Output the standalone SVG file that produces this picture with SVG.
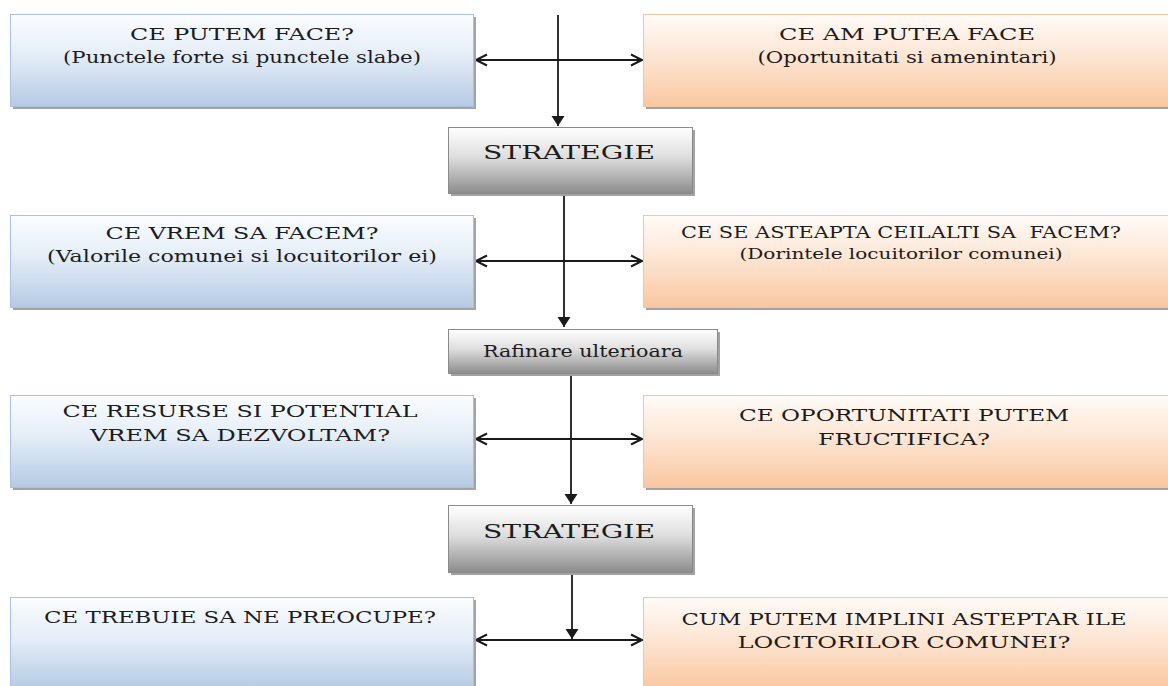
<svg xmlns="http://www.w3.org/2000/svg" width="1168" height="686" viewBox="0 0 1168 686">
<style>
.t{font-family:"DejaVu Serif","Liberation Serif",serif;font-size:17.5px;fill:#1c1c1c;text-anchor:middle;white-space:pre}
.sh{fill:#a3a3a3}
.bl{fill:url(#gB);stroke:#a9c1dd;stroke-width:1}
.or{fill:url(#gO);stroke:#f3c7a2;stroke-width:1}
.gr{fill:url(#gG);stroke:#8a8a8a;stroke-width:1}
.c{stroke:#1a1a1a;stroke-width:1.8;fill:none}
</style>
<defs>
<linearGradient id="gB" x1="0" y1="0" x2="0" y2="1"><stop offset="0" stop-color="#fbfdff"/><stop offset="0.45" stop-color="#e4edf7"/><stop offset="1" stop-color="#b5cae4"/></linearGradient>
<linearGradient id="gO" x1="0" y1="0" x2="0" y2="1"><stop offset="0" stop-color="#fffbf8"/><stop offset="0.45" stop-color="#fde6d4"/><stop offset="1" stop-color="#f9c7a0"/></linearGradient>
<linearGradient id="gG" x1="0" y1="0" x2="0" y2="1"><stop offset="0" stop-color="#ffffff"/><stop offset="0.45" stop-color="#dedede"/><stop offset="1" stop-color="#8c8c8c"/></linearGradient>
<marker id="tri" markerUnits="userSpaceOnUse" markerWidth="10" markerHeight="13" refX="10" refY="6.5" orient="auto" overflow="visible"><path d="M0,0 L10,6.5 L0,13 z" fill="#1a1a1a"/></marker>
<marker id="opn" markerUnits="userSpaceOnUse" markerWidth="12" markerHeight="11" refX="11" refY="5.5" orient="auto-start-reverse" overflow="visible"><path d="M0,0 L11,5.5 L0,11" fill="none" stroke="#1a1a1a" stroke-width="2"/><path d="M6,3 L11,5.5 L6,8 z" fill="#1a1a1a"/></marker>
</defs>
<rect width="1168" height="686" fill="#ffffff"/>

<g id="connectors">
<line class="c" x1="558" y1="15" x2="558" y2="126" marker-end="url(#tri)"/>
<line class="c" x1="476" y1="60" x2="642" y2="60" marker-start="url(#opn)" marker-end="url(#opn)"/>
<line class="c" x1="564" y1="193" x2="564" y2="327" marker-end="url(#tri)"/>
<line class="c" x1="476" y1="261" x2="642" y2="261" marker-start="url(#opn)" marker-end="url(#opn)"/>
<line class="c" x1="571" y1="373" x2="571" y2="504" marker-end="url(#tri)"/>
<line class="c" x1="476" y1="439" x2="642" y2="439" marker-start="url(#opn)" marker-end="url(#opn)"/>
<line class="c" x1="572" y1="572" x2="572" y2="639" marker-end="url(#tri)"/>
<line class="c" x1="476" y1="640" x2="642" y2="640" marker-start="url(#opn)" marker-end="url(#opn)"/>
</g>

<g id="n1">
<rect class="sh" x="13" y="17" width="463" height="92"/>
<rect class="bl" x="10.5" y="14.5" width="463" height="92"/>
<text class="t" x="242" y="40" textLength="224" lengthAdjust="spacingAndGlyphs">CE PUTEM FACE?</text>
<text class="t" x="242" y="63" textLength="358" lengthAdjust="spacingAndGlyphs">(Punctele forte si punctele slabe)</text>
</g>
<g id="n2">
<rect class="sh" x="646" y="17" width="530" height="92"/>
<rect class="or" x="643.5" y="14.5" width="530" height="92"/>
<text class="t" x="907" y="40" textLength="256" lengthAdjust="spacingAndGlyphs">CE AM PUTEA FACE</text>
<text class="t" x="907" y="63" textLength="299" lengthAdjust="spacingAndGlyphs">(Oportunitati si amenintari)</text>
</g>
<g id="n3">
<rect class="sh" x="451" y="130" width="244" height="66"/>
<rect class="gr" x="448.5" y="127.5" width="244" height="66"/>
<text class="t" x="569" y="159" style="font-size:19px" textLength="172" lengthAdjust="spacingAndGlyphs">STRATEGIE</text>
</g>
<g id="n4">
<rect class="sh" x="13" y="218" width="463" height="92"/>
<rect class="bl" x="10.5" y="215.5" width="463" height="92"/>
<text class="t" x="242" y="239" textLength="273" lengthAdjust="spacingAndGlyphs">CE VREM SA FACEM?</text>
<text class="t" x="242" y="262" textLength="390" lengthAdjust="spacingAndGlyphs">(Valorile comunei si locuitorilor ei)</text>
</g>
<g id="n5">
<rect class="sh" x="646" y="218" width="530" height="92"/>
<rect class="or" x="643.5" y="215.5" width="530" height="92"/>
<text class="t" x="901" y="238" style="font-size:16.5px" textLength="440" lengthAdjust="spacingAndGlyphs">CE SE ASTEAPTA CEILALTI SA  FACEM?</text>
<text class="t" x="901" y="259" style="font-size:15.5px" textLength="323" lengthAdjust="spacingAndGlyphs">(Dorintele locuitorilor comunei)</text>
</g>
<g id="n6">
<rect class="sh" x="451" y="332" width="269" height="44"/>
<rect class="gr" x="448.5" y="329.5" width="269" height="44"/>
<text class="t" x="583" y="357" textLength="200" lengthAdjust="spacingAndGlyphs">Rafinare ulterioara</text>
</g>
<g id="n7">
<rect class="sh" x="13" y="398" width="463" height="92"/>
<rect class="bl" x="10.5" y="395.5" width="463" height="92"/>
<text class="t" x="240" y="417" textLength="355" lengthAdjust="spacingAndGlyphs">CE RESURSE SI POTENTIAL</text>
<text class="t" x="240" y="441" textLength="300" lengthAdjust="spacingAndGlyphs">VREM SA DEZVOLTAM?</text>
</g>
<g id="n8">
<rect class="sh" x="646" y="398" width="530" height="92"/>
<rect class="or" x="643.5" y="395.5" width="530" height="92"/>
<text class="t" x="904" y="421" textLength="330" lengthAdjust="spacingAndGlyphs">CE OPORTUNITATI PUTEM</text>
<text class="t" x="904" y="445" textLength="172" lengthAdjust="spacingAndGlyphs">FRUCTIFICA?</text>
</g>
<g id="n9">
<rect class="sh" x="451" y="508" width="244" height="67"/>
<rect class="gr" x="448.5" y="505.5" width="244" height="67"/>
<text class="t" x="569" y="538" style="font-size:19px" textLength="172" lengthAdjust="spacingAndGlyphs">STRATEGIE</text>
</g>
<g id="n10">
<rect class="sh" x="13" y="600" width="463" height="92"/>
<rect class="bl" x="10.5" y="597.5" width="463" height="92"/>
<text class="t" x="240" y="623" textLength="392" lengthAdjust="spacingAndGlyphs">CE TREBUIE SA NE PREOCUPE?</text>
</g>
<g id="n11">
<rect class="sh" x="646" y="600" width="530" height="92"/>
<rect class="or" x="643.5" y="597.5" width="530" height="92"/>
<text class="t" x="904" y="625" textLength="445" lengthAdjust="spacingAndGlyphs">CUM PUTEM IMPLINI ASTEPTAR ILE</text>
<text class="t" x="904" y="648" textLength="333" lengthAdjust="spacingAndGlyphs">LOCITORILOR COMUNEI?</text>
</g>
</svg>
